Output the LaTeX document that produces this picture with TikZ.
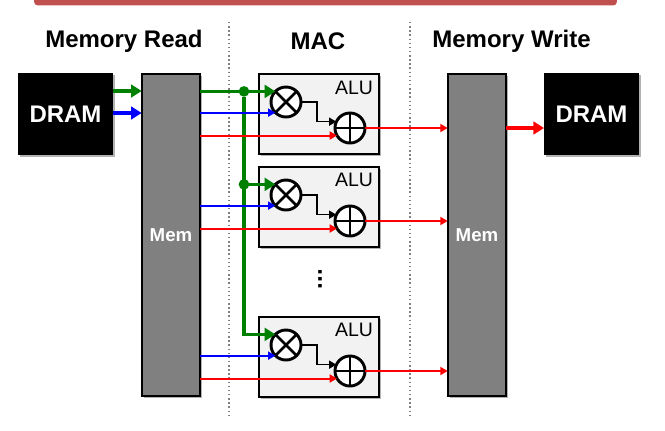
\documentclass[tikz,border=0pt]{standalone}
\usepackage{fontspec}
\setmainfont{Liberation Sans}
\usetikzlibrary{shapes,arrows.meta,shadows}

\definecolor{topred}{HTML}{C0504D}
\definecolor{wiregreen}{HTML}{008000}
\definecolor{alugray}{HTML}{F2F2F2}
\definecolor{memgray}{HTML}{808080}

\tikzset{
  softshadow/.style={drop shadow={shadow xshift=1.5pt, shadow yshift=-1.5pt, opacity=0.3, fill=black}},
  title/.style={font=\fontsize{18}{20}\selectfont\bfseries},
  drambox/.style={rectangle, fill=black, text=white, minimum width=71.2pt, minimum height=61.5pt, outer sep=0pt, softshadow, font=\fontsize{18}{20}\selectfont\bfseries},
  membox/.style={rectangle, draw=black, line width=1.5pt, fill=memgray, text=white, minimum width=44pt, minimum height=242pt, outer sep=0pt, softshadow, font=\fontsize{14}{16}\selectfont\bfseries},
  alubox/.style={rectangle, draw=black, line width=1.5pt, fill=alugray, minimum width=90pt, minimum height=60pt, outer sep=0pt, softshadow},
  alutext/.style={font=\fontsize{14.6}{16}\selectfont, inner sep=0pt},
  mulop/.style={circle, draw=black, line width=2.2pt, fill=white, minimum size=22.5pt, inner sep=0pt, outer sep=0pt, path picture={
    \draw[line width=2pt] (path picture bounding box.north west) -- (path picture bounding box.south east);
    \draw[line width=2pt] (path picture bounding box.south west) -- (path picture bounding box.north east);}},
  addop/.style={circle, draw=black, line width=2.2pt, fill=white, minimum size=22.5pt, inner sep=0pt, outer sep=0pt, path picture={
    \draw[line width=2pt] (path picture bounding box.north) -- (path picture bounding box.south);
    \draw[line width=2pt] (path picture bounding box.west) -- (path picture bounding box.east);}},
  bigtip/.style={-{Triangle[length=8pt, width=9.5pt]}},
  smalltip/.style={-{Triangle[length=5.5pt, width=6pt]}},
  greenwire/.style={bigtip, draw=wiregreen, line width=2.7pt},
  bluewire/.style={smalltip, draw=blue, line width=1.5pt},
  redwire/.style={smalltip, draw=red, line width=1.5pt},
  blackwire/.style={smalltip, draw=black, line width=1.2pt},
  sepline/.style={draw=gray, dotted, line width=1.1pt},
  joint/.style={circle, fill=wiregreen, minimum size=8pt, inner sep=0pt, outer sep=0pt}
}

\begin{document}
\begin{tikzpicture}[x=0.75pt, y=-0.75pt]
\useasboundingbox (0,0) rectangle (665,430);

% title bar
\node[rectangle, rounded corners=2.5pt, fill=topred, minimum width=437pt, minimum height=6.5pt, inner sep=0pt] (topbar) at (325.5,1) {};

% section headings
\node[title] (readtitle) at (124,41) {Memory Read};
\node[title] (mactitle) at (318,41) {MAC};
\node[title] (writetitle) at (511.5,41) {Memory Write};

% separators
\coordinate (sepa) at (229,22);
\coordinate (sepb) at (229,415);
\coordinate (sepc) at (410,22);
\coordinate (sepd) at (410,415);
\draw[sepline] (sepa) -- (sepb);
\draw[sepline] (sepc) -- (sepd);

% DRAM and memory blocks
\node[drambox] (dramin) at (65.5,114) {DRAM};
\node[membox] (memread) at (171,235) {Mem};
\node[membox] (memwrite) at (477,235) {Mem};
\node[drambox] (dramout) at (591.5,114) {DRAM};

% ALU 1
\node[alubox] (alua) at (318.5,113.5) {};
\node[alutext] (alualabel) at (354,88) {ALU};
\node[mulop] (mula) at (286,102) {};
\node[addop] (adda) at (350,128) {};

% ALU 2
\node[alubox] (alub) at (318.5,206.5) {};
\node[alutext] (alublabel) at (354,180) {ALU};
\node[mulop] (mulb) at (286,195) {};
\node[addop] (addb) at (350,221) {};

% ALU 3
\node[alubox] (aluc) at (318.5,356.5) {};
\node[alutext] (aluclabel) at (354,330) {ALU};
\node[mulop] (mulc) at (286,345) {};
\node[addop] (addc) at (350,371) {};

% more ALUs in between
\node[font=\fontsize{18}{20}\selectfont\bfseries, rotate=90, inner sep=0pt] (moredots) at (320,279) {...};

% DRAM to memory
\draw[greenwire] (dramin.east |- 0,91) -- (memread.west |- 0,91);
\draw[bluewire, bigtip, line width=2.7pt] (dramin.east |- 0,113) -- (memread.west |- 0,113);

% shared green wire
\node[joint] (jointa) at (244,0 |- mula.north west) {};
\node[joint] (jointb) at (244,0 |- mulb.north west) {};
\draw[greenwire] (memread.east |- mula.north west) -- (mula.north west);
\draw[greenwire] (jointb) -- (mulb.north west);
\draw[greenwire] (jointa) |- (mulc.north west);

% blue wires
\draw[bluewire] (memread.east |- mula.south west) -- (mula.south west);
\draw[bluewire] (memread.east |- mulb.south west) -- (mulb.south west);
\draw[bluewire] (memread.east |- mulc.south west) -- (mulc.south west);

% red wires into the adders
\draw[redwire] (memread.east |- adda.210) -- (adda.210);
\draw[redwire] (memread.east |- addb.210) -- (addb.210);
\draw[redwire] (memread.east |- addc.210) -- (addc.210);

% multiplier to adder
\draw[blackwire] (mula.east) -- ++(16,0) |- (adda.155);
\draw[blackwire] (mulb.east) -- ++(16,0) |- (addb.155);
\draw[blackwire] (mulc.east) -- ++(16,0) |- (addc.155);

% adder to memory
\draw[redwire] (adda.east) -- (memwrite.west |- adda.east);
\draw[redwire] (addb.east) -- (memwrite.west |- addb.east);
\draw[redwire] (addc.east) -- (memwrite.west |- addc.east);

% memory to DRAM
\draw[redwire, bigtip, line width=2.7pt] (memwrite.east |- 0,128) -- (dramout.west |- 0,128);
\end{tikzpicture}
\end{document}
